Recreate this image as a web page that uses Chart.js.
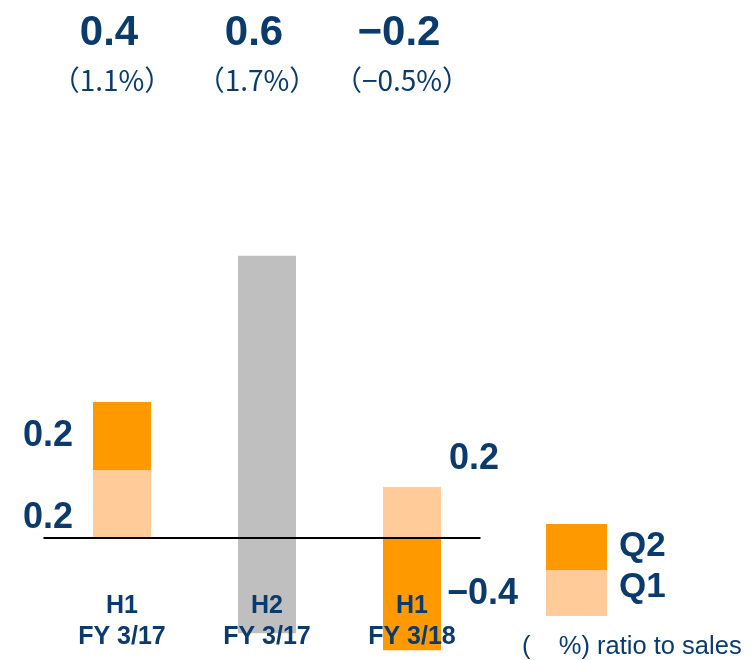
<!DOCTYPE html>
<html>
<head>
<meta charset="utf-8">
<script src="https://cdn.jsdelivr.net/npm/chart.js@4"></script>
<style>
  html, body { margin: 0; padding: 0; background: #fff; }
</style>
</head>
<body>
<canvas id="chart" width="754" height="660"></canvas>
<script>
// Datos (miles de millones)
const categories = [['H1', 'FY 3/17'], ['H2', 'FY 3/17'], ['H1', 'FY 3/18']];
const q1 = [0.2, null, 0.15];
const q2 = [0.2, null, -0.33];
const h2Range = [null, [-0.28, 0.83], null];
const totals = ['0.4', '0.6', '−0.2'];
const ratios = ['（1.1%）', '（1.7%）', '（−0.5%）'];
const q1Labels = ['0.2', '', '0.2'];
const q2Labels = ['0.2', '', '−0.4'];

const navy = '#0b3a6c';
const darkOrange = '#FF9900';
const lightOrange = '#FFCC99';
const grey = '#BFBFBF';

// Textos, línea base y leyenda dibujados encima
const overlay = {
  id: 'overlay',
  afterDatasetsDraw(chart) {
    const ctx = chart.ctx;
    const x = chart.scales.x;
    const y = chart.scales.y;
    const y0 = y.getPixelForValue(0);
    const half = 29;

    ctx.save();
    // línea base
    ctx.strokeStyle = '#000';
    ctx.lineWidth = 2;
    ctx.beginPath();
    ctx.moveTo(chart.chartArea.left - 6, y0);
    ctx.lineTo(chart.chartArea.right - 4, y0);
    ctx.stroke();

    ctx.fillStyle = navy;
    ctx.textBaseline = 'middle';

    categories.forEach((lines, i) => {
      const cx = x.getPixelForValue(i);
      // etiquetas de categoría
      ctx.textAlign = 'center';
      ctx.font = 'bold 25px "Liberation Sans", Arial, sans-serif';
      ctx.fillText(lines[0], cx, 606);
      ctx.fillText(lines[1], cx, 637);

      // totales arriba
      ctx.font = 'bold 42px "Liberation Sans", Arial, sans-serif';
      ctx.fillText(totals[i], cx - 13, 33);
      ctx.font = '28px "Noto Sans CJK JP", sans-serif';
      ctx.fillText(ratios[i], cx - 10, 80);

      // valores por trimestre
      if (q1[i] == null) return;
      ctx.font = 'bold 36px "Liberation Sans", Arial, sans-serif';
      if (q2[i] >= 0) {
        ctx.textAlign = 'right';
        ctx.fillText(q2Labels[i], cx - half - 20, y.getPixelForValue(q1[i] + q2[i] / 2));
        ctx.fillText(q1Labels[i], cx - half - 20, y.getPixelForValue(q1[i] * 0.3));
      } else {
        ctx.textAlign = 'left';
        ctx.fillText(q1Labels[i], cx + half + 8, y.getPixelForValue(q1[i]) - 28);
        ctx.fillText(q2Labels[i], cx + half + 6, y.getPixelForValue(q2[i] / 2));
      }
    });

    // leyenda
    ctx.fillStyle = darkOrange;
    ctx.fillRect(546, 524, 61, 46);
    ctx.fillStyle = lightOrange;
    ctx.fillRect(546, 570, 61, 46);
    ctx.fillStyle = navy;
    ctx.textAlign = 'left';
    ctx.font = 'bold 35px "Liberation Sans", Arial, sans-serif';
    ctx.fillText('Q2', 619, 546);
    ctx.fillText('Q1', 619, 587);
    ctx.font = '25.5px "Liberation Sans", Arial, sans-serif';
    ctx.fillText('(    %) ratio to sales', 522, 647);
    ctx.restore();
  }
};

new Chart(document.getElementById('chart'), {
  type: 'bar',
  data: {
    labels: categories,
    datasets: [
      { label: 'Q1', data: q1, backgroundColor: lightOrange, stack: 's' },
      { label: 'Q2', data: q2, backgroundColor: darkOrange, stack: 's' },
      { label: 'H2', data: h2Range, backgroundColor: grey, stack: 's' }
    ]
  },
  options: {
    responsive: false,
    animation: false,
    layout: { padding: { left: 49.5, right: 269.5, top: 198, bottom: 3 } },
    datasets: { bar: { barPercentage: 0.4, categoryPercentage: 1.0 } },
    plugins: {
      legend: { display: false },
      tooltip: { enabled: false }
    },
    scales: {
      x: { stacked: true, display: false },
      y: { stacked: true, display: false, min: -0.35, max: 1.0 }
    }
  },
  plugins: [overlay]
});
</script>
</body>
</html>
